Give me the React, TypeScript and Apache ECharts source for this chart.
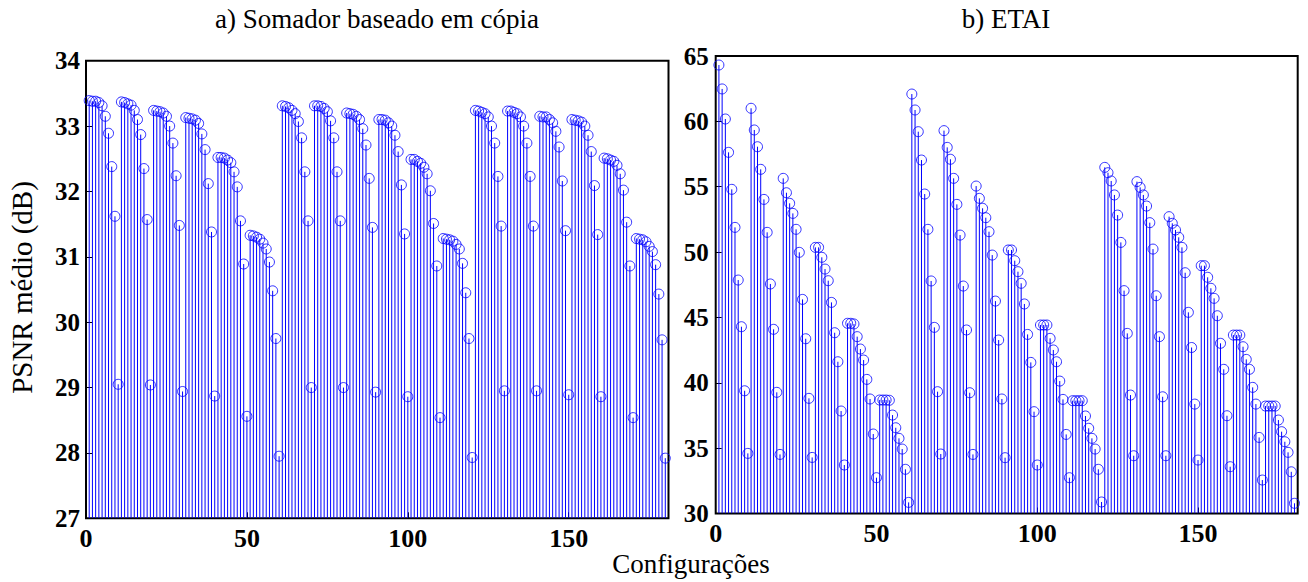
import React, { useEffect, useRef } from "react";
import * as echarts from "echarts";

// a) Somador baseado em cópia — PSNR médio (dB), configurações 1..180
const somadorBloco1 = [
  33.39, 33.38, 33.38, 33.36, 33.31, 33.15, 32.89, 32.38, 31.62, 29.05,
  33.37, 33.36, 33.34, 33.32, 33.24, 33.10, 32.87, 32.35, 31.57, 29.04,
  33.24, 33.23, 33.22, 33.20, 33.15, 33.00, 32.74, 32.24, 31.48, 28.94,
  33.13, 33.12, 33.11, 33.09, 33.04, 32.88, 32.64, 32.12, 31.38, 28.87,
  32.52, 32.52, 32.51, 32.48, 32.44, 32.30, 32.07, 31.55, 30.89, 28.56,
  31.33, 31.32, 31.30, 31.27, 31.21, 31.12, 30.92, 30.48, 29.75, 27.95,
];
const somadorBloco2 = [
  33.31, 33.30, 33.28, 33.24, 33.19, 33.07, 32.82, 32.30, 31.55, 29.00,
  33.31, 33.31, 33.30, 33.27, 33.22, 33.08, 32.82, 32.30, 31.55, 29.00,
  33.20, 33.19, 33.18, 33.15, 33.10, 32.96, 32.71, 32.20, 31.45, 28.93,
  33.10, 33.10, 33.09, 33.05, 33.00, 32.86, 32.61, 32.10, 31.35, 28.86,
  32.49, 32.49, 32.46, 32.43, 32.37, 32.27, 32.01, 31.51, 30.86, 28.54,
  31.28, 31.27, 31.26, 31.24, 31.19, 31.12, 30.90, 30.45, 29.75, 27.93,
];
const somadorBloco3 = [
  33.24, 33.23, 33.21, 33.19, 33.14, 33.00, 32.74, 32.23, 31.47, 28.95,
  33.23, 33.23, 33.21, 33.19, 33.14, 33.00, 32.74, 32.23, 31.47, 28.95,
  33.15, 33.14, 33.14, 33.10, 33.05, 32.92, 32.68, 32.16, 31.40, 28.89,
  33.10, 33.09, 33.08, 33.06, 33.00, 32.86, 32.61, 32.09, 31.34, 28.86,
  32.51, 32.50, 32.48, 32.46, 32.40, 32.27, 32.02, 31.53, 30.86, 28.54,
  31.28, 31.27, 31.26, 31.23, 31.16, 31.08, 30.88, 30.43, 29.73, 27.92,
];

// b) ETAI — PSNR médio (dB), configurações 1..180
const etaiBloco1 = [
  64.31, 62.48, 60.18, 57.63, 54.80, 51.89, 47.86, 44.29, 39.39, 34.60,
  61.00, 59.34, 58.06, 56.33, 54.03, 51.51, 47.56, 44.09, 39.27, 34.52,
  55.64, 54.54, 53.73, 52.96, 51.74, 49.98, 46.38, 43.37, 38.81, 34.29,
  50.36, 50.36, 49.60, 48.70, 47.81, 46.15, 43.83, 41.61, 37.84, 33.71,
  44.55, 44.55, 44.50, 43.53, 42.58, 41.74, 40.26, 38.76, 36.08, 32.74,
  38.68, 38.68, 38.68, 38.66, 37.53, 36.56, 35.75, 34.93, 33.38, 30.85,
];
const etaiBloco2 = [
  62.09, 60.87, 59.21, 57.04, 54.44, 51.74, 47.79, 44.24, 39.32, 34.55,
  59.29, 58.01, 57.10, 55.64, 53.65, 51.30, 47.40, 44.04, 39.24, 34.52,
  55.05, 54.11, 53.35, 52.63, 51.56, 49.77, 46.25, 43.27, 38.76, 34.27,
  50.16, 50.16, 49.34, 48.50, 47.61, 46.03, 43.70, 41.56, 37.79, 33.71,
  44.42, 44.42, 44.42, 43.40, 42.51, 41.61, 40.13, 38.73, 36.05, 32.74,
  38.63, 38.63, 38.63, 38.63, 37.46, 36.52, 35.75, 34.93, 33.38, 30.88,
];
const etaiBloco3 = [
  56.48, 56.07, 55.44, 54.37, 52.83, 50.74, 47.05, 43.78, 39.06, 34.42,
  55.39, 54.95, 54.37, 53.52, 52.25, 50.23, 46.66, 43.53, 38.93, 34.42,
  52.71, 52.20, 51.69, 51.13, 50.36, 48.42, 45.39, 42.70, 38.37, 34.09,
  48.96, 48.96, 48.07, 47.23, 46.46, 45.13, 43.02, 41.03, 37.48, 33.58,
  43.65, 43.65, 43.65, 42.76, 41.79, 41.03, 39.65, 38.37, 35.82, 32.56,
  38.22, 38.22, 38.22, 38.22, 37.15, 36.26, 35.49, 34.68, 33.19, 30.78,
];

const titles = ["a) Somador baseado em cópia", "b) ETAI"];
const yLabel = "PSNR médio (dB)";
const xLabel = "Configurações";
const xTicks = [0, 50, 100, 150];
const leftYTicks = [27, 28, 29, 30, 31, 32, 33, 34];
const rightYTicks = [30, 35, 40, 45, 50, 55, 60, 65];

const FONT = "'Liberation Serif', 'Times New Roman', Times, serif";
const BLUE = "#0000ff";

function toPoints(values: number[]) {
  return values.map((v, i) => [i + 1, v]);
}

export default function App() {
  const ref = useRef<HTMLDivElement>(null);
  useEffect(() => {
    if (!ref.current) return;
    const chart = echarts.init(ref.current, undefined, { renderer: "svg" });
    const somador = toPoints([...somadorBloco1, ...somadorBloco2, ...somadorBloco3]);
    const etai = toPoints([...etaiBloco1, ...etaiBloco2, ...etaiBloco3]);

    const stem = (gridIdx: number, base: number, data: number[][]) => ({
      type: "custom",
      xAxisIndex: gridIdx,
      yAxisIndex: gridIdx,
      data,
      clip: true,
      silent: true,
      renderItem: (params: any, api: any) => {
        const x = api.value(0);
        const y = api.value(1);
        const p = api.coord([x, y]);
        const b = api.coord([x, base]);
        return {
          type: "line",
          shape: { x1: p[0], y1: p[1], x2: b[0], y2: b[1] },
          style: { stroke: BLUE, lineWidth: 1 },
        };
      },
    });
    const marks = (gridIdx: number, data: number[][]) => ({
      type: "scatter",
      xAxisIndex: gridIdx,
      yAxisIndex: gridIdx,
      data,
      symbol: "circle",
      symbolSize: 10,
      silent: true,
      itemStyle: { color: "rgba(0,0,0,0)", borderColor: BLUE, borderWidth: 1 },
    });

    const xAxisCommon = {
      type: "value",
      min: 0,
      max: 181,
      interval: 50,
      axisLine: { show: false },
      axisTick: { show: true, inside: true, length: 6, lineStyle: { color: "#000", width: 1 } },
      splitLine: { show: false },
      axisLabel: {
        showMaxLabel: false,
        fontFamily: FONT,
        fontSize: 26,
        fontWeight: "bold",
        color: "#000",
        margin: 7,
        formatter: (v: number) => (xTicks.indexOf(v) >= 0 ? String(v) : ""),
      },
    };
    const yAxisCommon = (min: number, max: number, interval: number, ticks: number[], margin: number) => ({
      type: "value",
      min,
      max,
      interval,
      axisLine: { show: false },
      axisTick: { show: true, inside: true, length: 6, lineStyle: { color: "#000", width: 1 } },
      splitLine: { show: false },
      axisLabel: {
        fontFamily: FONT,
        fontSize: 25,
        fontWeight: "bold",
        color: "#000",
        margin,
        formatter: (v: number) => (ticks.indexOf(v) >= 0 ? String(v) : ""),
      },
    });

    const titleText = { fontFamily: FONT, fontSize: 27, fontWeight: "normal", color: "#000" };

    chart.setOption({
      animation: false,
      backgroundColor: "#fff",
      title: [
        { text: titles[0], left: 377, top: 5, textAlign: "center", padding: 0, textStyle: titleText },
        { text: titles[1], left: 1006, top: 5, textAlign: "center", padding: 0, textStyle: titleText },
        { text: xLabel, left: 691, top: 550, textAlign: "center", padding: 0, textStyle: titleText },
      ],
      grid: [
        { left: 86, top: 60.7, width: 582.5, height: 457.6, show: true, borderColor: "#000", borderWidth: 2, backgroundColor: "transparent" },
        { left: 715.7, top: 56, width: 582, height: 457.5, show: true, borderColor: "#000", borderWidth: 2, backgroundColor: "transparent" },
      ],
      xAxis: [
        { ...xAxisCommon, gridIndex: 0 },
        { ...xAxisCommon, gridIndex: 1 },
      ],
      yAxis: [
        {
          ...yAxisCommon(27, 34, 1, leftYTicks, 6),
          gridIndex: 0,
          name: yLabel,
          nameLocation: "middle",
          nameRotate: 90,
          nameGap: 50,
          nameTextStyle: { ...titleText, fontSize: 29, padding: [0, 0, 0, 4] },
        },
        { ...yAxisCommon(30, 65, 5, rightYTicks, 7), gridIndex: 1 },
      ],
      series: [
        stem(0, 27, somador),
        marks(0, somador),
        stem(1, 30, etai),
        marks(1, etai),
      ],
    });
    return () => chart.dispose();
  }, []);
  return (
    <div
      ref={ref}
      style={{ position: "fixed", left: 0, top: 0, width: 1308, height: 582, background: "#fff" }}
    />
  );
}
